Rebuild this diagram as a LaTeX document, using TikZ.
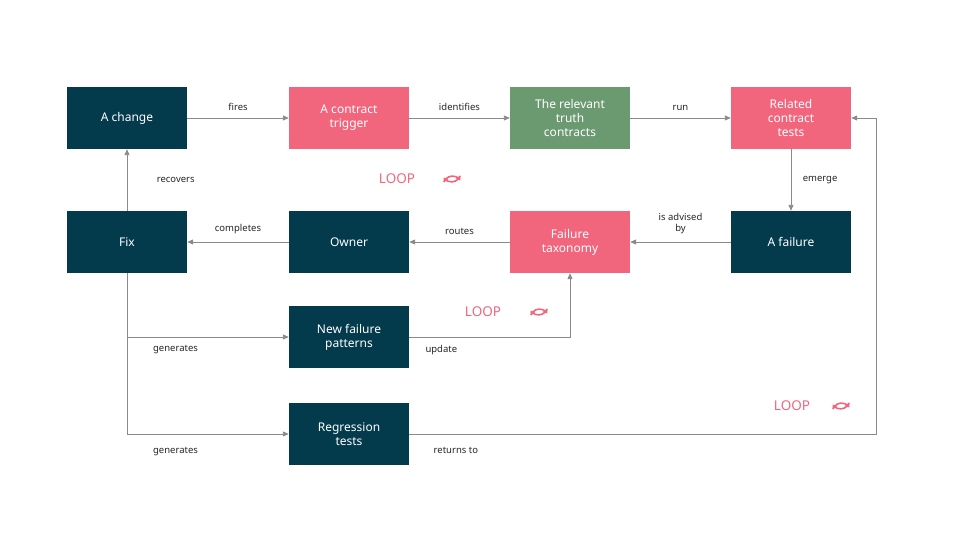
\documentclass[tikz,border=0pt]{standalone}
\usepackage{fontspec}
\setmainfont{Noto Sans}
\usetikzlibrary{arrows.meta}
\definecolor{dk}{HTML}{033B4C}
\definecolor{pk}{HTML}{F1657D}
\definecolor{gr}{HTML}{6B9A70}
\definecolor{ln}{HTML}{8A8A8A}
\tikzset{
 box/.style={minimum width=120pt,minimum height=62pt,inner sep=2pt,align=center,text=white,font=\fontsize{12}{14}\selectfont},
 dbox/.style={box,fill=dk},
 pbox/.style={box,fill=pk},
 gbox/.style={box,fill=gr},
 conn/.style={draw=ln,line width=0.9pt,-{Triangle[length=6pt,width=5pt]}},
 lab/.style={font=\fontsize{9.5}{11}\selectfont,text=black!85,align=center},
 loop/.style={font=\bfseries\fontsize{13.5}{15}\selectfont,text=pk},
}
\newcommand{\refreshicon}[1]{%
 \draw[pk,line width=1.6pt,-{Triangle[length=4pt,width=5pt]}] (#1) ++(8,-3) arc[start angle=20,end angle=150,radius=9];
 \draw[pk,line width=1.6pt,-{Triangle[length=4pt,width=5pt]}] (#1) ++(-8,3) arc[start angle=200,end angle=330,radius=9];
}
\begin{document}
\begin{tikzpicture}[x=1pt,y=-1pt]
\useasboundingbox (0,0) rectangle (960,540);
\node[dbox] (chg) at (127,118) {A change};
\node[pbox] (trg) at (349,118) {A contract\\trigger};
\node[gbox] (tru) at (570,118) {The relevant\\truth\\contracts};
\node[pbox] (rct) at (791,118) {Related\\contract\\tests};
\node[dbox] (fix) at (127,242) {Fix};
\node[dbox] (own) at (349,242) {Owner};
\node[pbox] (tax) at (570,242) {Failure\\taxonomy};
\node[dbox] (fai) at (791,242) {A failure};
\node[dbox] (nfp) at (349,337) {New failure\\patterns};
\node[dbox] (reg) at (349,434) {Regression\\tests};
\coordinate (c1) at (127,337);
\coordinate (c2) at (127,434);
\coordinate (c3) at (570,337);
\coordinate (c4) at (876,434);
\coordinate (c5) at (876,118);
\draw[conn] (chg) -- node[lab,above=4pt]{fires} (trg);
\draw[conn] (trg) -- node[lab,above=4pt]{identifies} (tru);
\draw[conn] (tru) -- node[lab,above=4pt]{run} (rct);
\draw[conn] (rct) -- node[lab,right=8pt]{emerge} (fai);
\draw[conn] (fai) -- node[lab,above=4pt]{is advised\\by} (tax);
\draw[conn] (tax) -- node[lab,above=4pt]{routes} (own);
\draw[conn] (own) -- node[lab,above=4pt]{completes} (fix);
\draw[conn] (fix) -- node[lab,right=26pt]{recovers} (chg);
\draw[conn] (fix.south) -- (c1) -- node[lab,below=4pt,pos=0.3]{generates} (nfp);
\draw[conn] (c1) -- (c2) -- node[lab,below=9pt,pos=0.3]{generates} (reg);
\draw[conn] (nfp) -- node[lab,below=4pt,pos=0.2]{update} (c3) -- (tax);
\draw[conn] (reg) -- node[lab,below=9pt,pos=0.1]{returns to} (c4) -- (c5) -- (rct);
\node[loop] (l1) at (397,179) {LOOP};
\node[loop] (l2) at (483,312) {LOOP};
\node[loop] (l3) at (792,406) {LOOP};
\refreshicon{452,179}
\refreshicon{539,312}
\refreshicon{841,406}
\end{tikzpicture}
\end{document}
